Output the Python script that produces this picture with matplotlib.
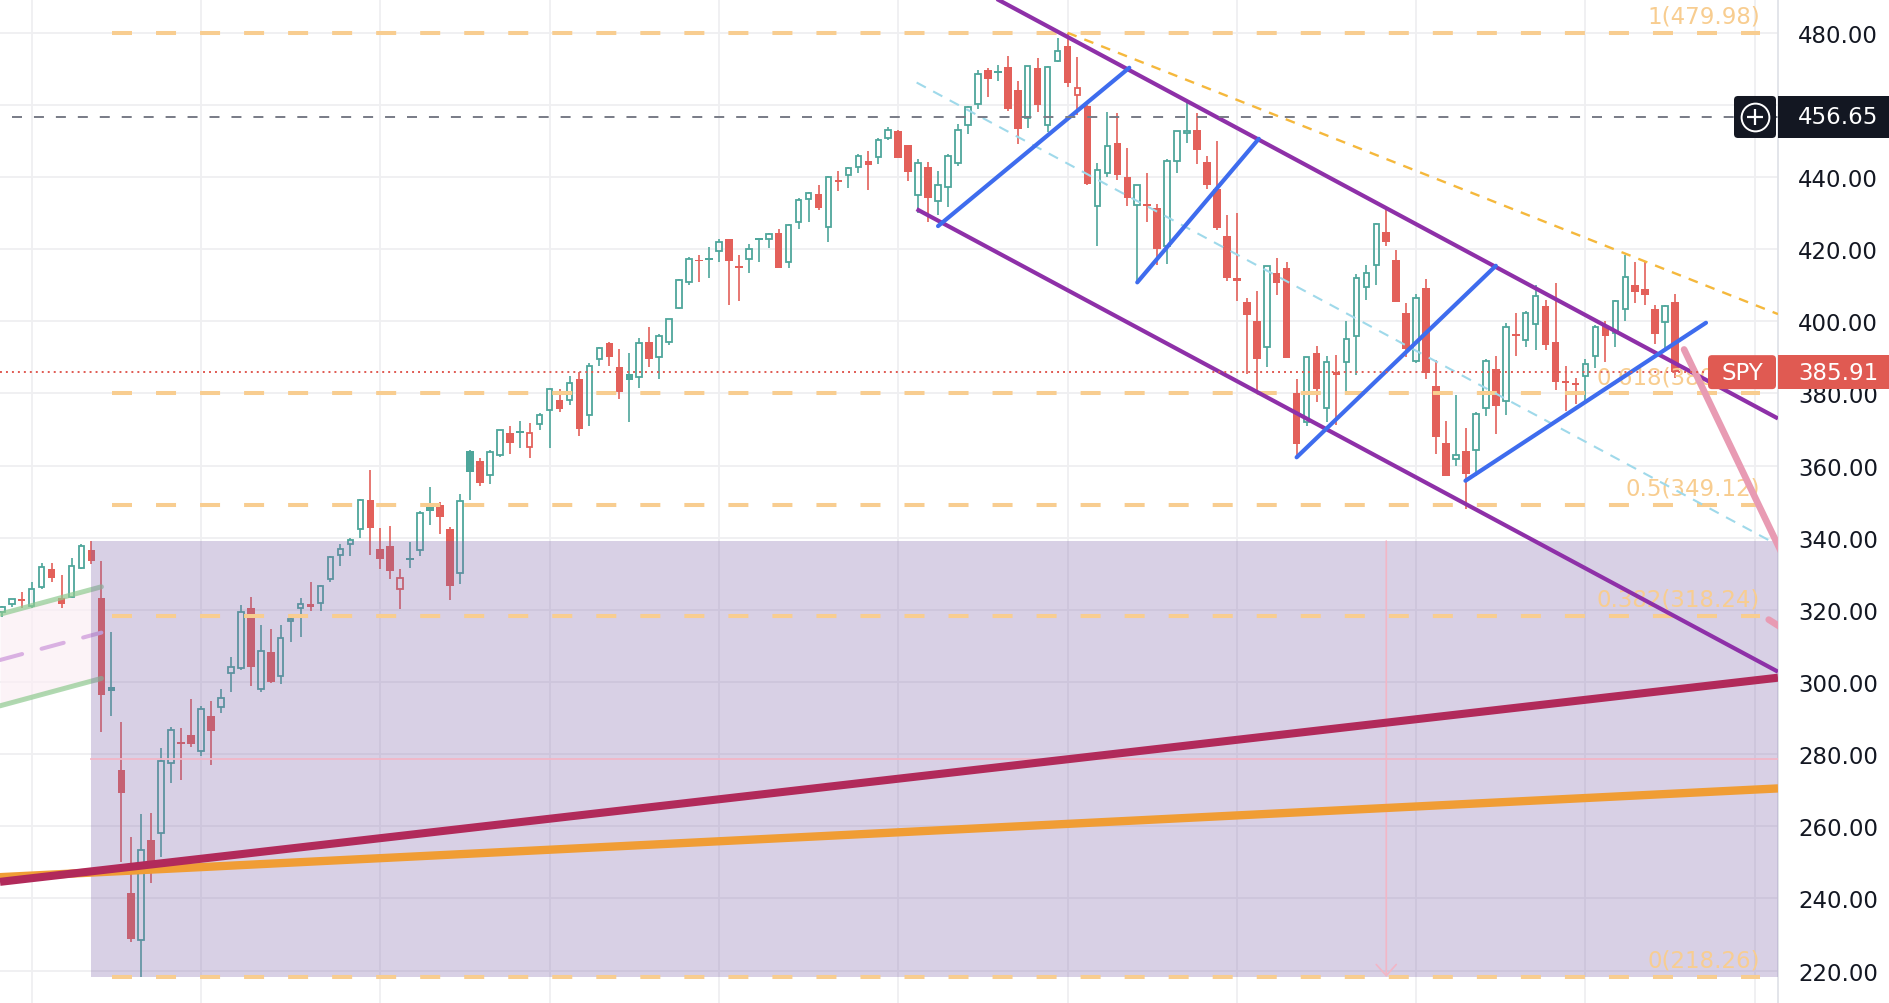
import numpy as np
import matplotlib
matplotlib.use("Agg")
import matplotlib.pyplot as plt
from matplotlib.patches import Rectangle, FancyBboxPatch
from matplotlib.collections import LineCollection
import matplotlib.transforms as mtransforms

plt.rcParams['lines.scale_dashes'] = False
plt.rcParams['font.family'] = ['DejaVu Sans']

# ---------------- data (weekly SPY candles, week 0 = first week of Jan 2020) ----------------
first_week = -4
opens = [
    314.4, 319.4, 321.6, 323.0, 321.0, 326.4, 331.2, 323.4, 323.7, 331.5,
    336.6, 323.4, 298.5, 275.5, 241.6, 228.5, 256.1, 258.1, 277.5, 283.3,
    285.4, 281.0, 290.7, 293.2, 302.4, 303.9, 320.6, 298.1, 308.2, 301.7,
    316.8, 320.4, 321.7, 322.0, 328.5, 335.2, 338.2, 342.5, 350.4, 337.0,
    337.7, 325.9, 334.2, 336.5, 349.2, 349.0, 342.3, 330.2, 364.0, 361.2,
    357.3, 363.0, 369.0, 369.3, 365.2, 371.6, 375.3, 378.2, 378.2, 384.0,
    373.9, 389.6, 394.1, 387.3, 385.4, 384.7, 394.4, 390.2, 394.4, 403.6,
    411.0, 417.0, 417.4, 419.4, 422.7, 415.4, 417.4, 422.9, 422.8, 424.5,
    416.5, 427.4, 433.8, 435.2, 426.2, 439.3, 440.5, 442.8, 444.4, 445.5,
    450.9, 452.7, 448.8, 434.9, 442.8, 433.4, 437.3, 444.0, 454.3, 460.3,
    469.7, 469.2, 470.6, 464.0, 456.4, 470.2, 454.5, 472.3, 476.2, 462.7,
    459.8, 432.0, 441.2, 449.4, 440.0, 432.2, 432.3, 431.5, 420.8, 444.4,
    452.3, 453.1, 444.2, 436.8, 423.7, 412.1, 405.3, 400.1, 393.0, 413.5,
    414.9, 380.1, 372.0, 391.2, 376.0, 385.9, 388.7, 395.8, 409.6, 415.6,
    424.8, 417.0, 402.4, 389.0, 409.2, 382.2, 366.4, 361.7, 364.0, 364.3,
    376.0, 386.7, 377.9, 396.6, 394.7, 399.3, 404.3, 394.3, 383.3, 383.0,
    384.8, 390.4, 398.7, 396.7, 403.4, 410.0, 409.0, 403.5, 399.9, 405.4,
]
highs = [
    317.9, 321.0, 323.0, 325.0, 327.6, 332.9, 333.1, 329.6, 334.5, 338.3,
    339.1, 333.6, 314.0, 288.8, 257.0, 263.3, 263.7, 281.7, 287.6, 287.2,
    295.3, 293.3, 294.6, 298.0, 307.0, 321.4, 323.7, 315.9, 314.8, 315.9,
    318.6, 323.4, 327.6, 326.9, 334.9, 338.4, 339.9, 350.7, 358.8, 342.8,
    343.2, 331.2, 338.9, 347.4, 354.0, 349.8, 342.9, 352.2, 364.4, 362.0,
    364.2, 370.0, 371.1, 372.5, 371.9, 374.7, 381.5, 381.1, 384.8, 385.9,
    388.5, 392.9, 394.2, 392.2, 391.2, 395.5, 398.3, 396.4, 400.7, 411.7,
    417.9, 418.4, 420.7, 422.8, 422.8, 418.4, 421.3, 423.2, 424.6, 425.5,
    427.1, 434.1, 435.8, 437.9, 440.3, 441.8, 442.9, 446.3, 447.1, 450.7,
    454.0, 453.1, 448.9, 445.1, 444.2, 441.7, 446.3, 454.7, 459.6, 469.6,
    470.2, 471.1, 473.5, 466.7, 470.9, 472.9, 470.9, 478.5, 480.0, 473.2,
    460.0, 443.9, 458.0, 457.7, 448.0, 437.8, 441.2, 432.4, 444.9, 452.9,
    461.2, 457.7, 445.8, 449.9, 429.6, 429.9, 406.4, 408.4, 415.4, 417.5,
    416.5, 383.9, 390.1, 393.2, 390.4, 390.6, 400.2, 413.0, 415.7, 427.2,
    431.1, 419.8, 405.2, 407.5, 411.7, 389.3, 372.3, 379.5, 370.3, 374.8,
    389.5, 390.4, 399.4, 402.3, 402.9, 410.0, 406.0, 410.5, 387.6, 384.4,
    389.5, 399.1, 400.2, 406.0, 418.3, 416.5, 416.5, 404.5, 404.5, 407.5,
]
lows = [
    313.6, 317.9, 320.9, 320.4, 320.4, 325.8, 327.6, 320.4, 323.2, 331.2,
    332.6, 286.1, 290.7, 250.1, 228.0, 218.26, 244.4, 251.5, 272.0, 272.7,
    282.0, 279.6, 276.9, 291.5, 297.1, 303.2, 298.8, 297.1, 299.7, 299.4,
    311.2, 312.5, 319.7, 319.6, 327.7, 332.2, 334.9, 340.0, 335.2, 331.2,
    328.5, 320.2, 331.5, 335.0, 343.5, 340.9, 322.6, 327.2, 350.5, 354.3,
    354.9, 362.3, 363.3, 365.0, 362.0, 370.0, 364.8, 374.8, 376.9, 368.3,
    371.0, 387.5, 387.7, 378.6, 372.0, 381.5, 387.3, 384.0, 393.5, 403.4,
    410.2, 411.0, 412.1, 416.5, 404.4, 405.7, 413.5, 416.5, 420.3, 414.7,
    414.7, 425.6, 427.5, 430.9, 422.0, 436.0, 437.0, 441.0, 436.3, 443.7,
    450.2, 445.3, 438.9, 430.0, 427.6, 429.5, 431.6, 443.1, 452.0, 458.9,
    462.2, 466.5, 458.2, 449.2, 453.6, 458.1, 452.5, 471.8, 464.9, 457.1,
    437.9, 420.8, 440.0, 439.1, 432.0, 410.7, 427.4, 415.6, 415.8, 441.0,
    449.5, 443.5, 436.7, 425.4, 411.2, 405.5, 385.4, 380.7, 387.2, 407.4,
    389.8, 362.2, 371.0, 377.5, 372.0, 371.3, 380.7, 385.0, 406.0, 410.0,
    421.0, 405.3, 390.0, 388.4, 383.9, 363.3, 357.0, 359.8, 348.1, 357.0,
    373.7, 368.8, 374.0, 390.4, 393.0, 392.0, 392.0, 381.0, 375.1, 377.0,
    377.8, 387.0, 388.6, 393.0, 400.0, 405.0, 404.4, 393.6, 392.0, 384.3,
]
closes = [
    317.3, 320.7, 322.9, 322.4, 325.7, 332.0, 328.8, 321.7, 332.2, 337.6,
    333.5, 296.3, 297.5, 269.3, 228.8, 253.4, 248.2, 278.2, 286.6, 283.0,
    282.8, 292.4, 286.3, 295.5, 304.3, 319.3, 304.2, 308.6, 300.1, 312.2,
    317.6, 321.7, 320.9, 326.5, 334.6, 337.0, 339.5, 350.6, 342.6, 334.1,
    330.7, 328.7, 333.8, 346.9, 347.3, 345.8, 326.5, 350.2, 358.1, 355.3,
    363.7, 369.9, 366.3, 369.2, 369.0, 373.9, 381.3, 375.7, 382.9, 370.1,
    387.7, 392.6, 390.0, 380.4, 383.6, 394.1, 389.5, 396.0, 400.6, 411.5,
    417.3, 416.7, 417.3, 422.1, 416.6, 414.9, 420.0, 422.6, 424.3, 414.9,
    426.6, 433.7, 435.5, 431.3, 439.9, 438.5, 442.5, 445.9, 443.4, 450.3,
    453.1, 445.4, 441.4, 443.9, 434.2, 437.9, 445.9, 453.1, 459.3, 468.5,
    467.3, 468.9, 459.0, 453.4, 470.7, 459.9, 470.6, 475.0, 466.1, 464.7,
    438.0, 442.0, 448.7, 440.5, 434.2, 437.8, 432.2, 420.1, 444.5, 452.7,
    452.9, 447.6, 437.8, 426.0, 412.0, 411.3, 401.7, 389.6, 415.3, 410.5,
    389.8, 365.9, 390.1, 381.2, 388.7, 385.1, 395.1, 412.0, 413.5, 427.1,
    422.1, 405.3, 392.2, 406.6, 385.6, 368.0, 357.2, 362.8, 357.6, 374.3,
    389.0, 376.4, 398.5, 396.0, 402.3, 406.9, 393.3, 383.3, 382.9, 382.4,
    388.1, 398.5, 395.9, 405.7, 412.4, 408.0, 407.3, 396.4, 404.2, 385.91,
]

price_ticks = [220, 240, 260, 280, 300, 320, 340, 360, 380, 400, 420, 440, 460, 480]
grid_weeks = [0, 17, 35, 52, 69, 87, 104, 121, 139, 156, 173]

symbol = "SPY"
last_price = 385.91
marker_price = 456.65

fib_levels = [0, 0.382, 0.5, 0.618, 1]
fib_low = 218.26
fib_high = 479.98
fib_weeks = [8.06, 173.5]

zone_weeks = [6.0, 176.0]
zone_prices = [218.26, 339.08]
zone_mid_price = 278.7
zone_marker_week = 136.0

channel_weeks = [88.85, 175.33]
channel_lower = [431.1, 302.85]
channel_width = 70.2

resistance_weeks = [104.0, 175.33]
resistance_prices = [480.0, 402.0]

blue_weeks = [[91.0, 110.2], [111.0, 123.2], [127.0, 147.0], [143.95, 168.1]]
blue_prices = [[426.4, 470.3], [410.8, 450.6], [362.3, 415.4], [355.8, 399.6]]

crimson_weeks = [-3.18, 175.33]
crimson_prices = [244.6, 301.2]
orange_weeks = [-3.18, 175.33]
orange_prices = [245.9, 270.5]

old_channel_weeks = [-3.18, 7.0]
old_channel_upper = [318.8, 326.4]
old_channel_lower = [293.4, 301.0]

projection_weeks = [165.9, 177.0]
projection_prices = [392.2, 328.3]
projection2_weeks = [174.4, 175.6]
projection2_prices = [317.3, 315.2]

# ---------------- layout ----------------
W, H = 1890, 1004
x_view = (-3.18, 175.33)
y_view = (211.01, 489.36)

fig = plt.figure(figsize=(W / 100, H / 100), dpi=100)
fig.patch.set_facecolor("white")
ax = fig.add_axes([0, 0, 1778 / W, 1])
ax.set_xlim(*x_view)
ax.set_ylim(*y_view)
ppu = H / (y_view[1] - y_view[0])

UP = "#4ea69b"
DOWN = "#e3605a"
TXT = "#131722"
FIB = "#f8cd90"
FS = 16.5

# grid / axes
ax.set_xticks(grid_weeks)
ax.set_yticks(price_ticks)
ax.set_yticklabels([f"{v:.2f}" for v in price_ticks])
ax.yaxis.tick_right()
ax.tick_params(axis="x", length=0, labelbottom=False)
ax.tick_params(axis="y", length=0, pad=14.5, labelsize=FS, labelcolor=TXT)
ax.grid(True, color="#efeff1", lw=1.3, zorder=0)
ax.set_axisbelow(True)
for s in ["left", "top", "bottom"]:
    ax.spines[s].set_visible(False)
ax.spines["right"].set_color("#e1e3e8")
ax.spines["right"].set_linewidth(1.3)

# ---------------- candles ----------------
weeks = np.arange(first_week, first_week + len(closes))
o = np.array(opens); h = np.array(highs); l = np.array(lows); c = np.array(closes)
prev = np.r_[o[0], c[:-1]]
wick_segs, wick_cols = [], []
for k, oo, hh, ll, cc, pc in zip(weeks, o, h, l, c, prev):
    col = UP if cc >= pc else DOWN
    if cc > oo and (cc - oo) > 0.5:
        ax.add_patch(Rectangle((k - 0.28, oo), 0.56, cc - oo, fill=False,
                               edgecolor=col, lw=1.3, zorder=2))
        wick_segs += [[(k, cc), (k, hh)], [(k, ll), (k, oo)]]
        wick_cols += [col, col]
    else:
        top, bot = max(oo, cc), min(oo, cc)
        if top - bot < 0.5:
            mid = (top + bot) / 2
            top, bot = mid + 0.25, mid - 0.25
        ax.add_patch(Rectangle((k - 0.38, bot), 0.76, top - bot,
                               facecolor=col, lw=0, zorder=2))
        wick_segs.append([(k, ll), (k, hh)])
        wick_cols.append(col)
ax.add_collection(LineCollection(wick_segs, colors=wick_cols, linewidths=1.2, zorder=1.9))

# ---------------- old green channel (left) ----------------
ow = np.array(old_channel_weeks)
ou = np.array(old_channel_upper)
ol = np.array(old_channel_lower)
ax.fill_between(ow, ol, ou, color="#fbeef4", alpha=0.7, lw=0, zorder=1)
ax.plot(ow, ou, color="#8fca90", lw=3.6, alpha=0.7, zorder=3, solid_capstyle="round")
ax.plot(ow, ol, color="#8fca90", lw=3.6, alpha=0.7, zorder=3, solid_capstyle="round")
ax.plot(ow, (ou + ol) / 2, color="#d9b0e2", lw=2.9, dashes=(16.5, 14.5), zorder=3,
        dash_capstyle="round")

# ---------------- purple zone ----------------
ax.add_patch(Rectangle((zone_weeks[0], zone_prices[0]), zone_weeks[1] - zone_weeks[0],
                       zone_prices[1] - zone_prices[0], facecolor="#8066ac", alpha=0.3,
                       lw=0, zorder=3))
ax.plot([zone_weeks[0], zone_weeks[1]], [zone_mid_price, zone_mid_price], color="#f2b6c6",
        lw=1.3, zorder=3.2)
ax.annotate("", xy=(zone_marker_week, zone_prices[0]),
            xytext=(zone_marker_week, zone_prices[1]),
            arrowprops=dict(arrowstyle="->,head_length=0.5,head_width=0.45", color="#f2b6c6",
                            lw=1.2, mutation_scale=16, shrinkA=0, shrinkB=0), zorder=3.2)

# ---------------- fibonacci ----------------
for lvl in fib_levels:
    p = fib_low + lvl * (fib_high - fib_low)
    ax.plot(fib_weeks, [p, p], color=FIB, lw=2.9, dashes=(14.4, 17.3), zorder=4)
    ax.annotate(f"{lvl:g}({p:.2f})", xy=(fib_weeks[1], p), xytext=(0, 7.5),
                textcoords="offset points", ha="right", va="baseline",
                color=FIB, fontsize=FS, zorder=4)

# ---------------- long trend lines ----------------
ax.plot(orange_weeks, orange_prices, color="#f09d35", lw=6.0, zorder=5, solid_capstyle="butt")
ax.plot(crimson_weeks, crimson_prices, color="#b12a5a", lw=5.8, zorder=5.1, solid_capstyle="butt")

# ---------------- descending channel ----------------
cw = np.array(channel_weeks)
clo = np.array(channel_lower)
ax.plot(cw, clo + channel_width / 2, color="#9fd9ea", lw=1.5, dashes=(7.5, 6.0), zorder=5)
ax.plot(resistance_weeks, resistance_prices, color="#f5b83c", lw=1.7, dashes=(7.0, 6.0), zorder=5)
ax.plot(cw, clo, color="#8e30a8", lw=3.0, zorder=6, solid_capstyle="butt")
ax.plot(cw, clo + channel_width, color="#8e30a8", lw=3.0, zorder=6, solid_capstyle="butt")
for bw, bp in zip(blue_weeks, blue_prices):
    ax.plot(bw, bp, color="#3e6cee", lw=3.0, zorder=6.2, solid_capstyle="round")

ax.plot(projection_weeks, projection_prices, color="#e89bb3", lw=4.8, zorder=6.3,
        solid_capstyle="round")
ax.plot(projection2_weeks, projection2_prices, color="#e89bb3", lw=4.8, zorder=6.3,
        solid_capstyle="round")

# ---------------- price lines ----------------
ax.plot([-2.0, x_view[1]], [marker_price, marker_price], color="#787b86", lw=1.4,
        dashes=(7.2, 8.6), zorder=7)
ax.plot([x_view[0], x_view[1]], [last_price, last_price], color="#e05a52", lw=1.4,
        dashes=(1.4, 2.9), zorder=7)

# ---------------- right scale tags ----------------
tf = mtransforms.blended_transform_factory(fig.transFigure, ax.transData)


def tag(x0, x1, price, hpx, color, rounded=False):
    if rounded:
        p = FancyBboxPatch((x0 / W, price - hpx / 2 / ppu), (x1 - x0) / W, hpx / ppu,
                           boxstyle=f"round,pad=0,rounding_size={4 / W}",
                           mutation_aspect=W / ppu, transform=tf, facecolor=color, lw=0,
                           clip_on=False, zorder=10)
    else:
        p = Rectangle((x0 / W, price - hpx / 2 / ppu), (x1 - x0) / W, hpx / ppu,
                      transform=tf, facecolor=color, lw=0, clip_on=False, zorder=10)
    ax.add_patch(p)


tag(1778, W + 2, marker_price, 42, "#131722")
tag(1734, 1776, marker_price, 42, "#131722", rounded=True)
ax.plot([1755.5 / W], [marker_price], transform=tf, marker="o", ms=20, mfc="none",
        mec="white", mew=1.4, clip_on=False, zorder=11)
ax.plot([1755.5 / W], [marker_price], transform=tf, marker="+", ms=12, mec="white",
        mew=1.6, clip_on=False, zorder=11)
ax.text(1798 / W, marker_price, f"{marker_price:.2f}", transform=tf, ha="left", va="center",
        color="white", fontsize=FS, zorder=11, clip_on=False)

tag(1708, 1776, last_price, 34, "#e05a52", rounded=True)
tag(1778, W + 2, last_price, 34, "#e05a52")
ax.text(1742 / W, last_price, symbol, transform=tf, ha="center", va="center",
        color="white", fontsize=FS, zorder=11, clip_on=False)
ax.text(1798 / W, last_price, f"{last_price:.2f}", transform=tf, ha="left", va="center",
        color="white", fontsize=FS, zorder=11, clip_on=False)

fig.savefig("out.png", dpi=100, facecolor="white")
